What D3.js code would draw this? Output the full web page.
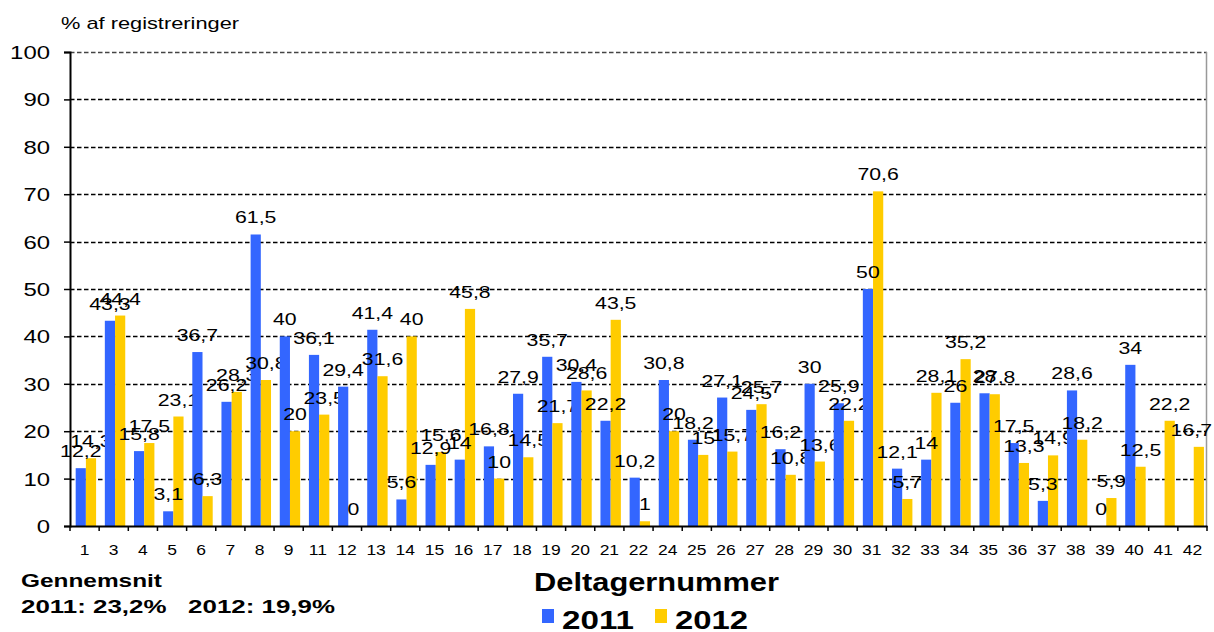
<!DOCTYPE html>
<html>
<head>
<meta charset="utf-8">
<script src="https://cdn.jsdelivr.net/npm/d3@7"></script>
<style>
  html, body { margin: 0; padding: 0; background: #fff; }
  svg { display: block; }
  text { font-family: "Liberation Sans", Arial, sans-serif; fill: #000; }
</style>
</head>
<body>
<svg id="chart" width="1214" height="632"></svg>
<script>
const categories = ["1","3","4","5","6","7","8","9","11","12","13","14","15","16","17","18","19","20","21","22","24","25","26","27","28","29","30","31","32","33","34","35","36","37","38","39","40","41","42"];
const values2011 = [12.2,43.3,15.8,3.1,36.7,26.2,61.5,40,36.1,29.4,41.4,5.6,12.9,14,16.8,27.9,35.7,30.4,22.2,10.2,30.8,18.2,27.1,24.5,16.2,30,25.9,50,12.1,14,26,28,17.5,5.3,28.6,0,34,null,null];
const values2012 = [14.3,44.4,17.5,23.1,6.3,28.3,30.8,20,23.5,0,31.6,40,15.6,45.8,10,14.5,21.7,28.6,43.5,1,20,15,15.7,25.7,10.8,13.6,22.2,70.6,5.7,28.1,35.2,27.8,13.3,14.9,18.2,5.9,12.5,22.2,16.7];
const seriesNames = ["2011","2012"];
const seriesColors = ["#3366FF","#FFCC00"];
const yTicks = [0,10,20,30,40,50,60,70,80,90,100];
const yTitle = "% af registreringer";
const xTitle = "Deltagernummer";
const avgTitle = "Gennemsnit";
const avgText = "2011: 23,2%\u00A0\u00A0\u00A02012: 19,9%";

(function () {
const svg = d3.select("#chart");
const pLeft = 70, pRight = 1207, pTop = 52, pBottom = 526;
const SX = 1.33;

const x = d3.scaleBand().domain(categories).range([pLeft, pRight]).padding(0);
const bw = x.bandwidth();
const x1 = d3.scaleBand().domain(seriesNames).range([bw * 0.195, bw * 0.895]).padding(0);
const y = d3.scaleLinear().domain([0, 100]).range([pBottom, pTop]);

// gridlines
svg.append("g").selectAll("line").data(yTicks.filter(t => t > 0)).join("line")
  .attr("x1", pLeft).attr("x2", pRight)
  .attr("y1", d => Math.round(y(d)) + 0.5).attr("y2", d => Math.round(y(d)) + 0.5)
  .attr("stroke", d => d === 100 ? "#444" : "#000")
  .attr("stroke-width", 1.3)
  .attr("stroke-dasharray", "4.5,2.5");

// right border
svg.append("line").attr("x1", pRight - 0.5).attr("x2", pRight - 0.5)
  .attr("y1", pTop).attr("y2", pBottom).attr("stroke", "#999").attr("stroke-width", 1.5);

// bars
const rows = categories.map((c, i) => ({ c, vals: [values2011[i], values2012[i]] }));
const groups = svg.append("g").selectAll("g").data(rows).join("g")
  .attr("transform", d => `translate(${x(d.c)},0)`);

groups.selectAll("rect").data(d => d.vals.map((v, k) => ({ v, k })).filter(e => e.v !== null)).join("rect")
  .attr("x", e => x1(seriesNames[e.k]))
  .attr("width", x1.bandwidth())
  .attr("y", e => y(e.v))
  .attr("height", e => y(0) - y(e.v))
  .attr("fill", e => seriesColors[e.k]);

// data labels
const labels = groups.selectAll("text").data(d => d.vals.map((v, k) => ({ v, k, c: d.c })).filter(e => e.v !== null)).join("text")
  .attr("text-anchor", "middle")
  .attr("font-size", 16)
  .text(e => String(e.v).replace(".", ","));
labels.each(function (e) {
  const w = this.getComputedTextLength() * SX;
  let cx = x1(seriesNames[e.k]) + x1.bandwidth() / 2;
  const abs = x(e.c) + cx;
  if (abs + w / 2 > 1212) cx -= (abs + w / 2 - 1212);
  d3.select(this).attr("transform", `translate(${cx},${y(e.v) - 11}) scale(${SX},1)`);
});

// y axis
const yAxis = d3.axisLeft(y).tickValues(yTicks).tickSize(6).tickPadding(0).tickFormat(d3.format("d"));
const gy = svg.append("g").attr("transform", `translate(${pLeft},0)`).call(yAxis);
gy.select(".domain").attr("stroke", "#000").attr("stroke-width", 2);
gy.selectAll(".tick line").attr("stroke", "#000").attr("stroke-width", 1.5);
gy.selectAll(".tick text")
  .attr("x", null).attr("dy", null)
  .attr("transform", `translate(-20,6.5) scale(${SX},1)`)
  .attr("text-anchor", "end")
  .attr("font-size", 18)
  .attr("font-family", "Liberation Sans, Arial, sans-serif")
  .attr("fill", "#000");

// x axis
const xAxis = d3.axisBottom(x).tickSize(0).tickPadding(0);
const gx = svg.append("g").attr("transform", `translate(0,${pBottom})`).call(xAxis);
gx.select(".domain").attr("stroke", "#000").attr("stroke-width", 2);
gx.selectAll(".tick text")
  .attr("y", null).attr("dy", null)
  .attr("transform", `translate(0,29) scale(1.25,1)`)
  .attr("font-size", 14)
  .attr("font-family", "Liberation Sans, Arial, sans-serif")
  .attr("fill", "#000");
// boundary ticks
const bounds = categories.map(c => x(c)).concat([pRight]);
svg.append("g").selectAll("line").data(bounds).join("line")
  .attr("x1", d => d).attr("x2", d => d)
  .attr("y1", pBottom).attr("y2", pBottom + 5)
  .attr("stroke", "#000").attr("stroke-width", 1.5);

// titles
svg.append("text").attr("x", 61).attr("y", 29)
  .attr("font-size", 17).attr("textLength", 178).attr("lengthAdjust", "spacingAndGlyphs")
  .text(yTitle);

svg.append("text").attr("x", 534).attr("y", 591)
  .attr("font-size", 26).attr("font-weight", "bold")
  .attr("textLength", 245).attr("lengthAdjust", "spacingAndGlyphs")
  .text(xTitle);

svg.append("text").attr("x", 21).attr("y", 587)
  .attr("font-size", 19).attr("font-weight", "bold")
  .attr("textLength", 141).attr("lengthAdjust", "spacingAndGlyphs")
  .text(avgTitle);
svg.append("text").attr("x", 21).attr("y", 613)
  .attr("font-size", 19).attr("font-weight", "bold")
  .attr("textLength", 314).attr("lengthAdjust", "spacingAndGlyphs")
  .text(avgText);

// legend
const legendX = [542, 655];
const legendW = [72, 73];
const lg = svg.append("g").selectAll("g").data(seriesNames).join("g");
lg.append("rect").attr("x", (d, i) => legendX[i]).attr("y", 609).attr("width", 12).attr("height", 14)
  .attr("fill", (d, i) => seriesColors[i]);
lg.append("text").attr("x", (d, i) => legendX[i] + 20).attr("y", 629)
  .attr("font-size", 25).attr("font-weight", "bold")
  .attr("textLength", (d, i) => legendW[i]).attr("lengthAdjust", "spacingAndGlyphs")
  .text(d => d);
})();
</script>
</body>
</html>
